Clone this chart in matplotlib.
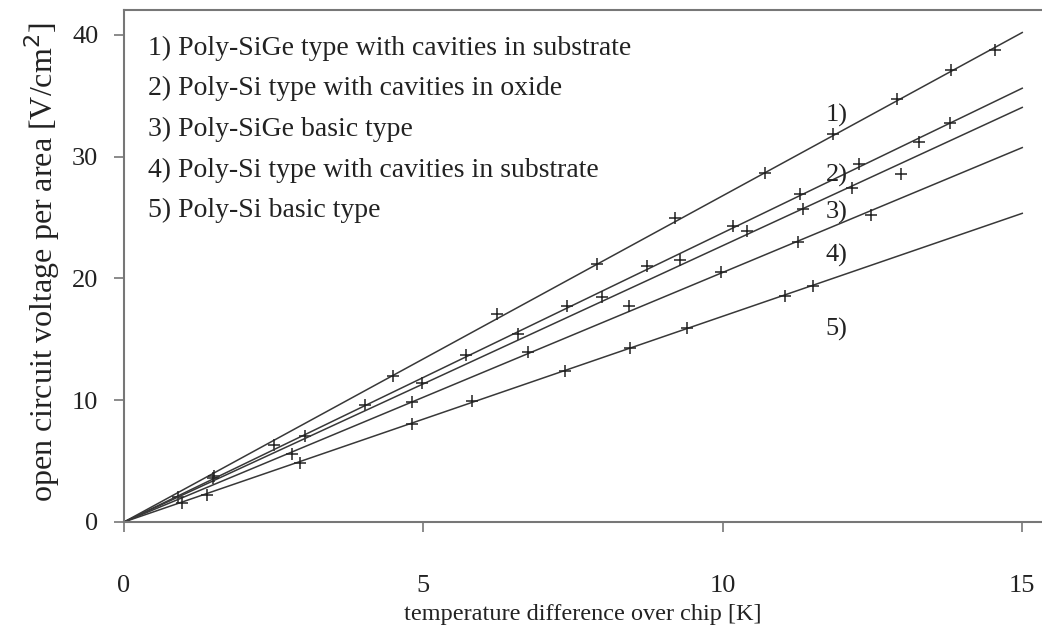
import matplotlib
matplotlib.use("Agg")
import matplotlib.pyplot as plt
import numpy as np

plt.rcParams['font.family'] = ['Liberation Serif', 'DejaVu Serif']

# measured points (temperature difference K, voltage per area V/cm2)
x1 = [1.5, 2.5, 4.49, 6.23, 7.9, 9.2, 10.71, 11.84, 12.91, 13.81, 14.55]
y1 = [3.75, 6.3, 11.95, 17.1, 21.2, 25.0, 28.7, 31.9, 34.7, 37.1, 38.8]
x2 = [0.9, 3.02, 4.03, 5.71, 6.58, 7.4, 8.74, 10.17, 11.29, 12.28, 13.28, 13.8]
y2 = [2.05, 7.06, 9.6, 13.7, 15.4, 17.7, 21.0, 24.3, 26.9, 29.4, 31.2, 32.8]
x3 = [1.49, 4.98, 7.98, 9.29, 10.41, 11.34, 12.16, 12.98]
y3 = [3.6, 11.4, 18.5, 21.5, 23.9, 25.7, 27.4, 28.6]
x4 = [2.81, 4.81, 6.75, 8.43, 9.97, 11.26, 12.48]
y4 = [5.6, 9.86, 14.0, 17.7, 20.5, 23.0, 25.2]
x5 = [0.97, 1.39, 2.94, 4.81, 5.81, 7.37, 8.45, 9.4, 11.04, 11.51]
y5 = [1.6, 2.2, 4.85, 8.05, 9.9, 12.4, 14.3, 15.9, 18.6, 19.4]

# slopes of the fitted lines through origin
slopes = [2.68, 2.375, 2.27, 2.05, 1.69]
line_tags = ['1)', '2)', '3)', '4)', '5)']
tag_y = [33.4, 28.5, 25.4, 21.9, 15.8]

legend_lines = [
    '1) Poly-SiGe type with cavities in substrate',
    '2) Poly-Si type with cavities in oxide',
    '3) Poly-SiGe basic type',
    '4) Poly-Si type with cavities in substrate',
    '5) Poly-Si basic type',
]

fig = plt.figure(figsize=(10.42, 6.32), dpi=100)
ax = fig.add_axes([124/1042, 110/632, 918/1042, 512/632])

xs = [x1, x2, x3, x4, x5]
ys = [y1, y2, y3, y4, y5]
xl = np.array([0, 15])
for s, xx, yy in zip(slopes, xs, ys):
    ax.plot(xl, s*xl, color='#383838', lw=1.1)
    ax.plot(xx, yy, ls='none', marker='+', ms=9, mew=1.1, color='#222222')

for t, ty in zip(line_tags, tag_y):
    ax.text(11.9, ty, t, fontsize=19, ha='center', va='center', color='#222222')

for i, s in enumerate(legend_lines):
    ax.text(0.4, 38.9 - i*3.33, s, fontsize=20, ha='left', va='center', color='#222222')

ax.set_xlim(0, 15.33)
ax.set_ylim(0, 42.05)
ax.set_xticks([0, 5, 10, 15])
ax.set_yticks([0, 10, 20, 30, 40])
ax.tick_params(direction='out', length=7.5, width=1.2, color='#777777',
               labelsize=19, labelcolor='#222222')
ax.tick_params(axis='x', pad=31)
ax.tick_params(axis='y', pad=11)
for sp in ['left', 'top', 'bottom']:
    ax.spines[sp].set_color('#777777')
    ax.spines[sp].set_linewidth(1.5)
ax.spines['right'].set_visible(False)

ax.set_xlabel('temperature difference over chip [K]', fontsize=17.5, color='#222222', va='center')
ax.xaxis.set_label_coords(0.5, -0.18)
ax.set_ylabel('open circuit voltage per area [V/cm$^2$]', fontsize=23, color='#222222', va='center')
ax.yaxis.set_label_coords(-0.089, 0.508)

fig.savefig('out.png', dpi=100)
